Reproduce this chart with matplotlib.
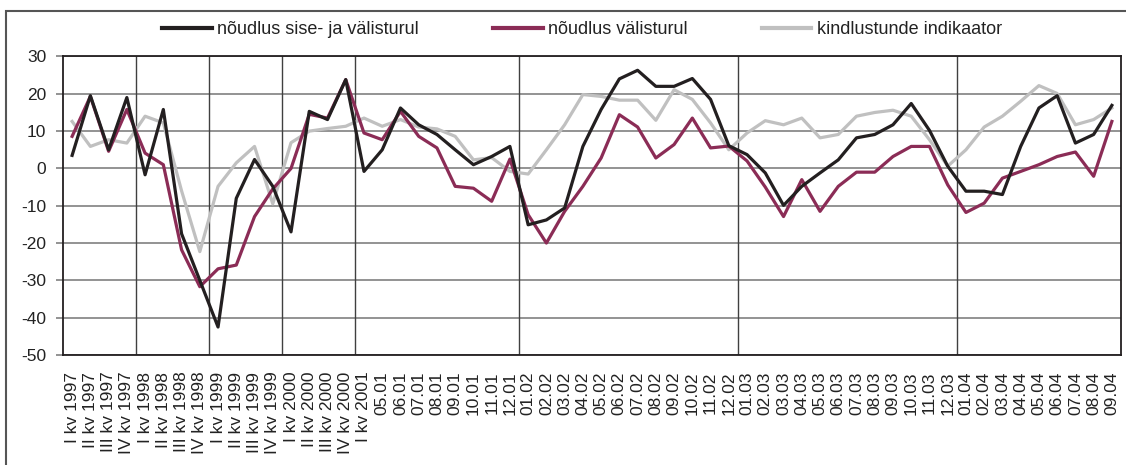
import matplotlib
matplotlib.use("Agg")
import matplotlib.pyplot as plt
from matplotlib.patches import Rectangle

plt.rcParams['font.family'] = ['Liberation Sans', 'DejaVu Sans']
plt.rcParams['axes.unicode_minus'] = False

quarters = [f"{q} kv {y}" for y in (1997, 1998, 1999, 2000) for q in ("I", "II", "III", "IV")] + ["I kv 2001"]
months = ([f"{m:02d}.01" for m in range(5, 13)] + [f"{m:02d}.02" for m in range(1, 13)]
          + [f"{m:02d}.03" for m in range(1, 13)] + [f"{m:02d}.04" for m in range(1, 10)])
labels = quarters + months

total = [3.5, 19.5, 5.0, 19.0, -1.7, 15.8, -17.5, -30.0, -42.5, -8.0, 2.4, -4.8, -17.0, 15.3, 13.1, 23.8, -0.8,
         5.0, 16.2, 11.7, 9.1, 5.0, 1.0, 3.2, 5.9,
         -15.1, -13.8, -10.6, 5.9, 15.8, 24.0, 26.3, 22.0, 22.0, 24.1, 18.5, 6.1,
         3.7, -1.2, -9.9, -4.8, -1.2, 2.3, 8.2, 9.1, 11.7, 17.4, 10.2, 0.6,
         -6.1, -6.1, -7.0, 5.9, 16.2, 19.5, 6.8, 9.1, 16.9]
export = [8.6, 19.3, 4.6, 15.8, 4.1, 1.0, -21.8, -31.7, -26.9, -25.9, -12.9, -5.5, 0.0, 14.5, 13.5, 23.8, 9.5,
          7.7, 15.3, 8.6, 5.5, -4.8, -5.3, -8.8, 2.5,
          -12.4, -20.0, -11.5, -4.8, 2.8, 14.4, 11.1, 2.8, 6.4, 13.5, 5.5, 6.0,
          2.0, -5.0, -12.9, -3.0, -11.5, -4.8, -1.0, -1.0, 3.2, 5.9, 5.9, -4.4,
          -11.8, -9.3, -2.6, -0.8, 1.0, 3.2, 4.4, -2.1, 12.6]
confidence = [12.6, 5.9, 7.7, 6.8, 14.0, 12.2, -6.0, -22.3, -4.8, 1.5, 5.9, -9.5, 6.9, 10.0, 10.7, 11.3, 13.5,
              11.3, 13.1, 11.1, 10.6, 8.6, 2.3, 2.9, -0.8,
              -1.5, 5.0, 11.7, 19.8, 19.3, 18.3, 18.3, 12.9, 21.1, 18.5, 12.2, 5.0,
              9.5, 12.8, 11.7, 13.5, 8.2, 9.1, 14.0, 15.0, 15.6, 14.0, 7.7, 0.6,
              5.0, 11.1, 14.0, 18.0, 22.2, 20.1, 11.7, 13.1, 16.2]
year_breaks = [4, 8, 12, 16, 25, 37, 49]

series_names = ["nõudlus sise- ja välisturul", "nõudlus välisturul", "kindlustunde indikaator"]
colors = ["#231f20", "#8b2c56", "#c0c0c0"]

fig = plt.figure(figsize=(11.26, 4.65), dpi=100)
fig.patches.append(Rectangle((5.5 / 1126, -0.01), 1.2, 1 - 11 / 465 + 0.01, transform=fig.transFigure,
                             fill=False, edgecolor="#555555", linewidth=1.5, zorder=0))
ax = fig.add_axes([63 / 1126, 1 - 355 / 465, (1121 - 63) / 1126, (355 - 56.5) / 465])

x = list(range(len(labels)))
ax.plot(x, confidence, color=colors[2], lw=2.3, label=series_names[2], zorder=3)
ax.plot(x, export, color=colors[1], lw=2.3, label=series_names[1], zorder=4)
ax.plot(x, total, color=colors[0], lw=2.3, label=series_names[0], zorder=5)

ax.set_xlim(-0.5, len(labels) - 0.5)
ax.set_ylim(-50, 30)
ax.set_yticks(range(-50, 31, 10))
ax.yaxis.grid(True, color="#8a8a8a", lw=1.3)
for b in year_breaks:
    ax.axvline(b - 0.5, color="#404040", lw=1.0, zorder=1)
ax.set_axisbelow(True)

ax.set_xticks(x)
ax.set_xticklabels(labels, rotation=90, va="top", ha="center", fontsize=12.5, color="#222222")
ax.tick_params(axis="x", length=0, pad=12)
ax.tick_params(axis="y", length=5, color="#8a8a8a", width=1.3, pad=7, labelsize=12.5, labelcolor="#222222")
for s in ax.spines.values():
    s.set_color("#231f20")
    s.set_linewidth(1.3)

handles, lbls = ax.get_legend_handles_labels()
order = [2, 1, 0]
leg = fig.legend([handles[i] for i in order], [lbls[i] for i in order], loc="center left",
                 bbox_to_anchor=(146 / 1126, 1 - 30 / 465), ncol=3, frameon=False, fontsize=13,
                 handlelength=2.75, handletextpad=0.3, columnspacing=4.1)
for lh in leg.get_lines():
    lh.set_linewidth(3)
for t in leg.get_texts():
    t.set_color("#222222")

fig.savefig("out.png", dpi=100)
